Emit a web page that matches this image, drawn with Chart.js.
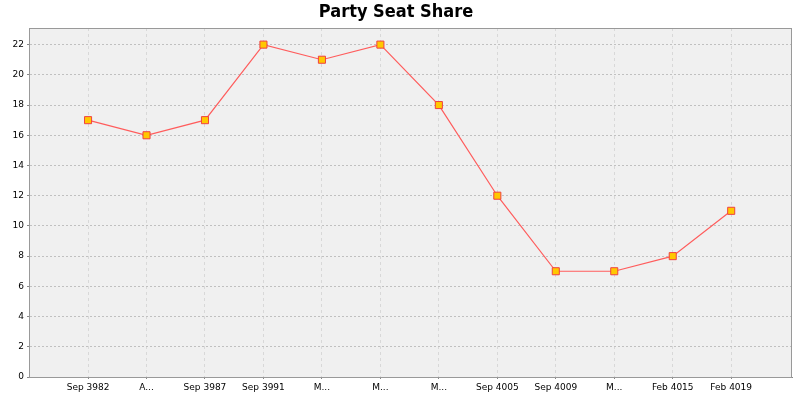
<!DOCTYPE html>
<html>
<head>
<meta charset="utf-8">
<script src="https://cdn.jsdelivr.net/npm/chart.js@4/dist/chart.umd.min.js"></script>
<style>
  body { margin: 0; background: #fff; }
</style>
</head>
<body>
<canvas id="seatChart" width="800" height="400"></canvas>
<script>
// Party seat share per election
const labels = ["Sep 3982", "A...", "Sep 3987", "Sep 3991", "M...", "M...", "M...", "Sep 4005", "Sep 4009", "M...", "Feb 4015", "Feb 4019"];
const seats = [17, 16, 17, 22, 21, 22, 18, 12, 7, 7, 8, 11];
const yTicks = [0, 2, 4, 6, 8, 10, 12, 14, 16, 18, 20, 22];

// plot background + outline like the original
const plotFrame = {
    id: "plotFrame",
    beforeDraw(chart) {
        const a = chart.chartArea, ctx = chart.ctx;
        ctx.save();
        ctx.fillStyle = "#f0f0f0";
        ctx.fillRect(a.left, a.top, a.right - a.left, a.bottom - a.top);
        ctx.restore();
    },
    afterDraw(chart) {
        const a = chart.ctx, c = chart.chartArea;
        a.save();
        a.strokeStyle = "#999";
        a.lineWidth = 1;
        a.strokeRect(c.left + 0.5, c.top + 0.5, c.right - c.left - 1, c.bottom - c.top);
        a.restore();
    }
};

const tickFont = { family: "DejaVu Sans", size: 9 };

new Chart(document.getElementById("seatChart"), {
    type: "line",
    data: {
        datasets: [{
            data: seats.map((v, i) => ({ x: i + 1, y: v })),
            borderColor: "#ff5c5c",
            borderWidth: 1.2,
            pointStyle: "rect",
            pointRadius: 5,
            pointBackgroundColor: "#ffc800",
            pointBorderColor: "#f04040",
            pointBorderWidth: 1,
            tension: 0
        }]
    },
    options: {
        responsive: false,
        animation: false,
        layout: { padding: { left: 0, right: 8, bottom: 0 } },
        plugins: {
            legend: { display: false },
            tooltip: { enabled: false },
            title: {
                display: true,
                text: "Party Seat Share",
                color: "#000",
                font: { family: "DejaVu Sans Condensed", size: 18, weight: "bold" },
                padding: { top: 2, bottom: 4.4 }
            }
        },
        scales: {
            x: {
                type: "linear",
                min: -0.01,
                max: 13.04,
                afterBuildTicks: s => { s.ticks = labels.map((_, i) => ({ value: i + 1 })); },
                afterFit: s => { s.height = 23; },
                ticks: {
                    autoSkip: false,
                    maxRotation: 0,
                    padding: 3,
                    color: "#000",
                    font: tickFont,
                    callback: v => labels[v - 1]
                },
                grid: { color: "#d8d8d8", tickLength: 2, tickColor: "#888" },
                border: { color: "#888", dash: [3, 3] }
            },
            y: {
                min: 0,
                max: 23.1,
                afterBuildTicks: s => { s.ticks = yTicks.map(v => ({ value: v })); },
                afterFit: s => { s.width = 29; },
                ticks: { padding: 3, color: "#000", font: tickFont },
                grid: { color: "#c0c0c0", tickLength: 2, tickColor: "#888" },
                border: { color: "#888", dash: [2, 2] }
            }
        }
    },
    plugins: [plotFrame]
});
</script>
</body>
</html>
